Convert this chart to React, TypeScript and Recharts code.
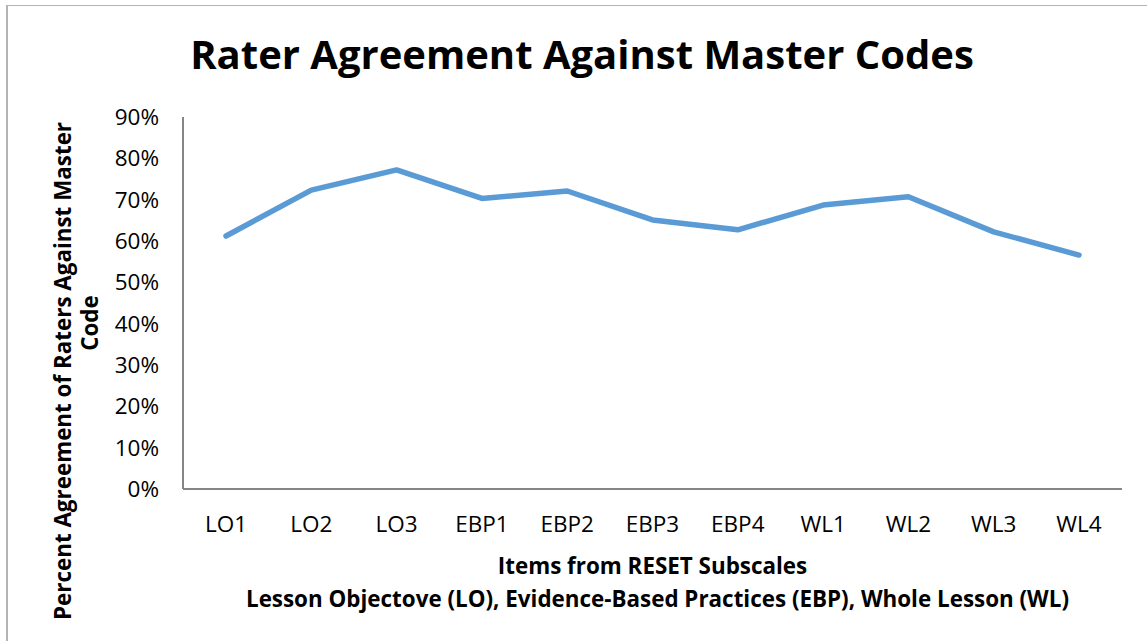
import { LineChart, Line, XAxis, YAxis } from 'recharts';

const items = ['LO1', 'LO2', 'LO3', 'EBP1', 'EBP2', 'EBP3', 'EBP4', 'WL1', 'WL2', 'WL3', 'WL4'];
const agreement = [0.612, 0.723, 0.772, 0.703, 0.721, 0.651, 0.627, 0.687, 0.707, 0.622, 0.566];
const yTicks = [0, 0.1, 0.2, 0.3, 0.4, 0.5, 0.6, 0.7, 0.8, 0.9];

const chartTitle = 'Rater Agreement Against Master Codes';
const xTitle = 'Items from RESET Subscales';
const xSubtitle = 'Lesson Objectove (LO), Evidence-Based Practices (EBP), Whole Lesson (WL)';
const yTitleLines = ['Percent Agreement of Raters Against Master', 'Code'];

const data = items.map((item, i) => ({ item, value: agreement[i] }));

const FONT = '"Open Sans", "Noto Sans", sans-serif';
const TITLE_SIZE = 22.4;

function XTitle(props: any) {
  const vb = props.viewBox || {};
  const cx = vb.x + vb.width / 2;
  const top = vb.y;
  return (
    <g>
      <text x={cx} y={top + 85} textAnchor="middle" fontFamily={FONT} fontWeight={700} fontSize={TITLE_SIZE} fill="#000">
        {xTitle}
      </text>
      <text x={cx + 5} y={top + 118} textAnchor="middle" fontFamily={FONT} fontWeight={700} fontSize={TITLE_SIZE} fill="#000">
        {xSubtitle}
      </text>
    </g>
  );
}

function YTitle() {
  return (
    <g>
      <text
        transform="translate(71, 371) rotate(-90)"
        textAnchor="middle"
        fontFamily={FONT}
        fontWeight={700}
        fontSize={TITLE_SIZE}
        fill="#000"
      >
        {yTitleLines[0]}
      </text>
      <text
        transform="translate(98, 323) rotate(-90)"
        textAnchor="middle"
        fontFamily={FONT}
        fontWeight={700}
        fontSize={TITLE_SIZE}
        fill="#000"
      >
        {yTitleLines[1]}
      </text>
    </g>
  );
}

export default function App() {
  return (
    <div style={{ position: 'fixed', top: 0, left: 0, width: 1147, height: 641, background: '#fff' }}>
      <div style={{ position: 'absolute', left: 6, top: 5, right: 0, bottom: 0, borderTop: '1px solid #b4b4b4', borderLeft: '2px solid #b4b4b4' }} />
      <div style={{ position: 'absolute', left: 0, top: 0 }}>
        <LineChart width={1147} height={641} data={data} margin={{ top: 117, right: 25, left: 0, bottom: 112 }}>
          <text x={582} y={69} textAnchor="middle" fontFamily={FONT} fontWeight={700} fontSize={40} fill="#000">
            {chartTitle}
          </text>
          <XAxis
            dataKey="item"
            height={40}
            padding={{ left: 43, right: 43 }}
            axisLine={{ stroke: '#868686', strokeWidth: 2 }}
            tickLine={false}
            tickSize={0}
            tickMargin={27}
            tick={{ fill: '#000', fontSize: 22.5, fontFamily: FONT }}
            interval={0}
            label={<XTitle />}
          />
          <YAxis
            width={183}
            domain={[0, 0.9]}
            ticks={yTicks}
            tickFormatter={(v: number) => `${Math.round(v * 100)}%`}
            axisLine={{ stroke: '#868686', strokeWidth: 2 }}
            tickLine={false}
            tickSize={0}
            tickMargin={24}
            tick={{ fill: '#000', fontSize: 22.5, fontFamily: FONT }}
            interval={0}
            label={<YTitle />}
          />
          <Line
            type="linear"
            dataKey="value"
            stroke="#5B9BD5"
            strokeWidth={5.5}
            strokeLinecap="round"
            strokeLinejoin="round"
            dot={false}
            activeDot={false}
            isAnimationActive={false}
          />
        </LineChart>
      </div>
    </div>
  );
}
